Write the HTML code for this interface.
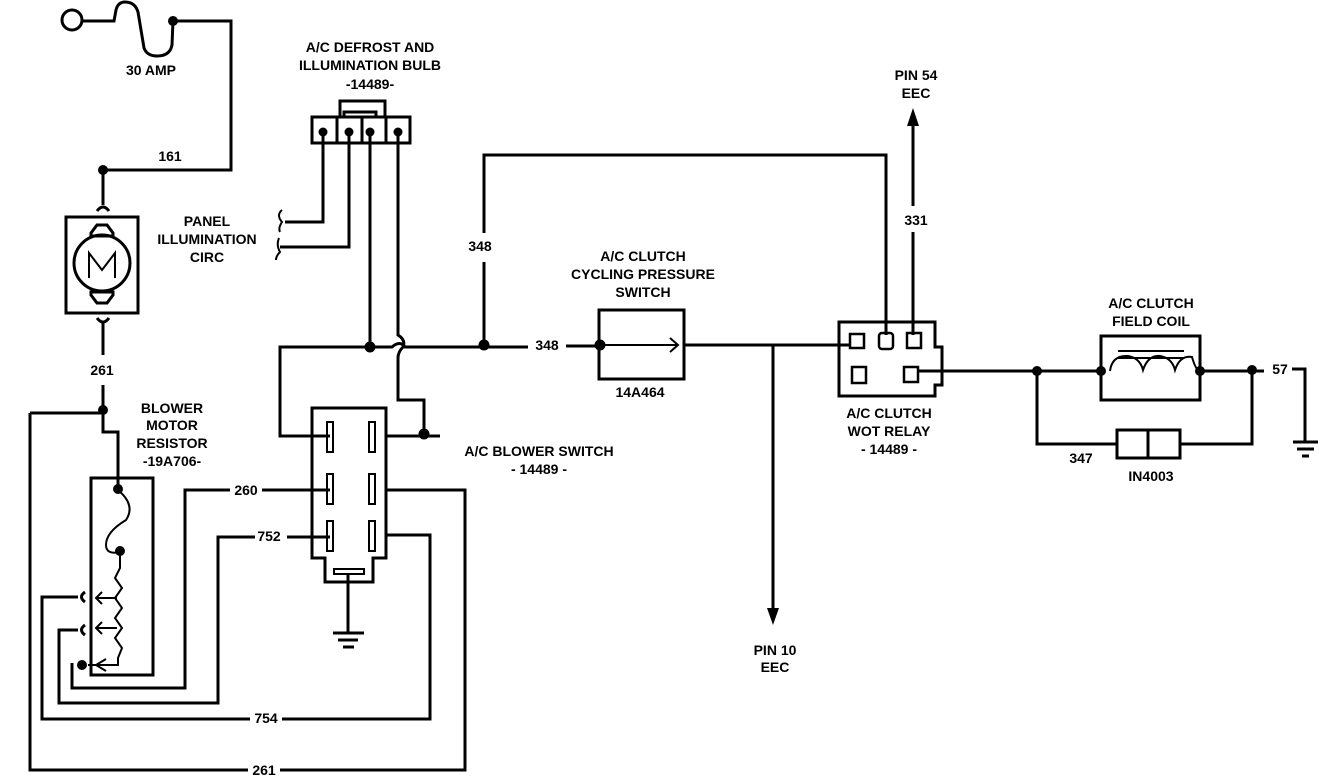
<!DOCTYPE html>
<html><head><meta charset="utf-8"><style>
html,body{margin:0;padding:0;background:#fff}
svg{display:block}
text{font-family:"Liberation Sans",sans-serif;font-weight:bold;font-size:14px;fill:#000}
</style></head><body>
<svg width="1344" height="776" viewBox="0 0 1344 776" xmlns="http://www.w3.org/2000/svg">
<g fill="none" stroke="#000" stroke-width="3" stroke-linejoin="miter">
<circle cx="72" cy="20" r="10"/>
<path d="M82 21 H114 L116 10 Q118 2 125 2 Q135 2 138 12 L144 48 Q147 56 157 56 Q170 56 172 45 L173 21"/>
<path d="M173 21 H231 V170 H103 V205"/>
<path d="M97 211 Q103 203 109 211"/>
<rect x="66" y="217" width="72" height="96"/>
<circle cx="102" cy="263" r="28"/>
<path d="M91 233 L97 225 H107 L113 233 V236 H91 Z"/>
<path d="M91 292 H113 V295 L107 303 H97 L91 295 Z"/>
<path d="M89 278 V253 L102 270 L115 253 V278" stroke-width="2"/>
<path d="M97 318 Q103 326 109 318"/>
<path d="M103 322 V355"/>
<path d="M103 385 V432 H118 V490"/>
<path d="M30 413 H103"/>
<path d="M30 413 V770 H248 M280 770 H465 V490 H385"/>
<path d="M78 597 H42 V719 H250 M282 719 H430 V535 H385"/>
<path d="M78 630 H59 V703 H218 V537 H255 M287 537 H330"/>
<path d="M72 663 V688 H185 V490 H230 M262 490 H330"/>
<rect x="91" y="478" width="62" height="197"/>
<path d="M118 490 Q136 505 126 520 Q106 532 106 545 Q106 555 120 552 V568 L115 578 L122 588 L115 598 L122 608 L115 618 L122 628 L115 638 L122 648 L118 658 V665 H88" stroke-width="2"/>
<path d="M117 598 H96 M102 592 L96 598 L102 604 M117 628 H96 M102 622 L96 628 L102 634 M106 659 L96 665 L106 671" stroke-width="2"/>
<path d="M85 592 Q78 597 85 602 M85 625 Q78 630 85 635"/>
<path d="M312 408 H386 V558 H373 V582 H325 V558 H312 Z"/>
<rect x="327" y="422" width="6" height="30" stroke-width="2"/>
<rect x="369" y="422" width="6" height="30" stroke-width="2"/>
<rect x="327" y="474" width="6" height="30" stroke-width="2"/>
<rect x="369" y="474" width="6" height="30" stroke-width="2"/>
<rect x="327" y="521" width="6" height="30" stroke-width="2"/>
<rect x="369" y="521" width="6" height="30" stroke-width="2"/>
<rect x="334" y="569" width="30" height="5" stroke-width="2"/>
<path d="M348 575 V632 M333 633 H364 M338 640 H358 M343 647 H354"/>
<path d="M330 436 H280 V347 H392 Q400 340 405 347 H528 M566 346 H600"/>
<path d="M386 436 H440"/>
<path d="M312 117 H410 V143 H312 Z M340 117 V101 H385 V117 M344 117 V112 H376 V117"/>
<path d="M337 118 V143 M362 118 V143 M386 118 V143"/>
<path d="M323 130 V222 H285 M349 130 V247 H280 M370 130 V347 M398 130 V335 Q406 340 403 347 Q398 352 398 358 V400 H424 V436"/>
<path d="M282 210 Q276 215 282 222 Q278 228 280 232 M279 238 Q276 245 280 252 Q276 256 276 260" stroke-width="2"/>
<path d="M484 345 V262 M484 233 V155 H886 V335"/>
<rect x="599" y="310" width="85" height="69"/>
<path d="M600 345 H678 M670 338 L678 345 L670 352" stroke-width="2"/>
<path d="M684 345 H850"/>
<path d="M773 345 V612"/>
<path d="M913 335 V232 M913 206 V125"/>
<path d="M839 322 H935 V347 H942 V385 H935 V396 H839 Z"/>
<rect x="850" y="334" width="14" height="14" stroke-width="2.5"/>
<rect x="879" y="333" width="14" height="16" rx="3" stroke-width="2.5"/>
<rect x="907" y="333" width="14" height="15" stroke-width="2.5"/>
<rect x="852" y="367" width="14" height="16" stroke-width="2.5"/>
<rect x="904" y="367" width="14" height="15" stroke-width="2.5"/>
<path d="M918 371 H1101 M1200 371 H1264 M1292 369 H1305 V441 M1293 442 H1318 M1297 449 H1314 M1302 456 H1309"/>
<rect x="1101" y="336" width="99" height="64"/>
<path d="M1110 371 Q1112 355 1128 356 Q1140 358 1143 370 Q1148 355 1160 356 Q1172 358 1175 370 Q1180 355 1192 357 Q1196 371 1200 371" stroke-width="2"/>
<path d="M1118 351 H1184 M1118 358 H1184" stroke-width="2"/>
<path d="M1037 371 V444 H1117 M1180 444 H1252 V371"/>
<rect x="1117" y="430" width="63" height="28"/>
<path d="M1148 430 V458"/>
</g>
<g fill="#000">
<circle cx="173" cy="21" r="5"/><circle cx="103" cy="170" r="5"/><circle cx="103" cy="410" r="5"/>
<circle cx="118" cy="489" r="5"/><circle cx="120" cy="551" r="5"/><circle cx="82" cy="665" r="5"/>
<circle cx="370" cy="347" r="5.5"/><circle cx="484" cy="345" r="5.5"/><circle cx="600" cy="345" r="5.5"/><circle cx="424" cy="434" r="5.5"/>
<circle cx="323" cy="132" r="4.5"/><circle cx="349" cy="132" r="4.5"/><circle cx="370" cy="132" r="4.5"/><circle cx="398" cy="132" r="4.5"/>
<circle cx="1037" cy="371" r="5"/><circle cx="1101" cy="371" r="5"/><circle cx="1200" cy="371" r="5"/><circle cx="1252" cy="370" r="5"/>
<path d="M773 625 L767 608 H779 Z"/>
<path d="M913 108 L907 126 H919 Z"/>
</g>
<g text-anchor="middle">
<text x="151" y="75">30 AMP</text>
<text x="170" y="161">161</text>
<text x="370" y="52">A/C DEFROST AND</text>
<text x="370" y="70">ILLUMINATION BULB</text>
<text x="370" y="89" font-size="13">-14489-</text>
<text x="207" y="226">PANEL</text>
<text x="207" y="244">ILLUMINATION</text>
<text x="207" y="262">CIRC</text>
<text x="102" y="375">261</text>
<text x="172" y="413">BLOWER</text>
<text x="172" y="430">MOTOR</text>
<text x="172" y="448">RESISTOR</text>
<text x="172" y="466" font-size="13">-19A706-</text>
<text x="246" y="495">260</text>
<text x="269" y="541">752</text>
<text x="266" y="723">754</text>
<text x="264" y="775">261</text>
<text x="539" y="456">A/C BLOWER SWITCH</text>
<text x="539" y="474" font-size="13">- 14489 -</text>
<text x="480" y="251">348</text>
<text x="547" y="350">348</text>
<text x="643" y="261">A/C CLUTCH</text>
<text x="643" y="279">CYCLING PRESSURE</text>
<text x="643" y="297">SWITCH</text>
<text x="640" y="397">14A464</text>
<text x="775" y="655">PIN 10</text>
<text x="775" y="672">EEC</text>
<text x="916" y="80">PIN 54</text>
<text x="916" y="98">EEC</text>
<text x="916" y="225">331</text>
<text x="889" y="418">A/C CLUTCH</text>
<text x="889" y="436">WOT RELAY</text>
<text x="889" y="454" font-size="13">- 14489 -</text>
<text x="1151" y="308">A/C CLUTCH</text>
<text x="1151" y="326">FIELD COIL</text>
<text x="1081" y="463">347</text>
<text x="1151" y="481">IN4003</text>
<text x="1280" y="374">57</text>
</g>
</svg>
</body></html>
